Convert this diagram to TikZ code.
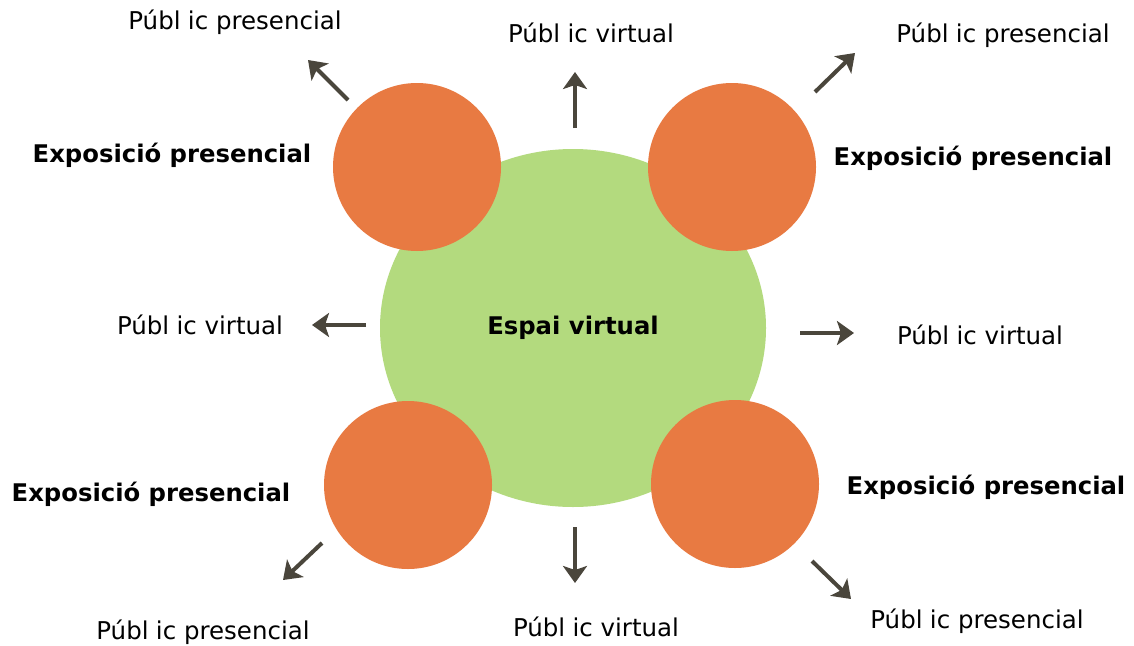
\documentclass[tikz,border=0pt]{standalone}
\usepackage{fontspec}
\setmainfont{DejaVu Sans}
\usetikzlibrary{arrows.meta,shapes.geometric}
\definecolor{orangec}{HTML}{E87A42}
\definecolor{greenc}{HTML}{B3DA7E}
\definecolor{arrowc}{HTML}{4A463C}
\newcommand{\pub}{Públ\hspace{0.3em}ic}
\tikzset{
  bub/.style={circle, fill=orangec, draw=none, minimum size=168pt, inner sep=0pt},
  lbl/.style={font=\fontsize{24.5}{28}\selectfont, text=black, inner sep=0pt},
  blbl/.style={font=\fontsize{24.3}{28}\selectfont\bfseries, text=black, inner sep=0pt},
  arr/.style={draw=arrowc, line width=4pt, -{Stealth[length=17pt,width=24pt,inset=4pt]}}
}
\begin{document}
\begin{tikzpicture}[x=1pt,y=-1pt]
\useasboundingbox[fill=white] (0,0) rectangle (1134,645);
% central space
\node[ellipse, fill=greenc, minimum width=386pt, minimum height=358pt, inner sep=0pt] (esp) at (573,328) {};
\path (esp) node[blbl] (espt) {Espai virtual};
% orange circles
\node[bub] (tl) at (417,167) {};
\node[bub] (tr) at (732,167) {};
\node[bub] (bl) at (408,485) {};
\node[bub] (br) at (735,484) {};
% bold labels
\node[blbl] (etl) at (172,155) {Exposició presencial};
\node[blbl] (etr) at (973,158) {Exposició presencial};
\node[blbl] (ebl) at (151,494) {Exposició presencial};
\node[blbl] (ebr) at (986,487) {Exposició presencial};
% public labels
\node[lbl] (p1) at (235,22) {\pub{} presencial};
\node[lbl] (p2) at (591,33) {\pub{} virtual};
\node[lbl] (p3) at (1003,35) {\pub{} presencial};
\node[lbl] (p4) at (200,325) {\pub{} virtual};
\node[lbl] (p5) at (980,335) {\pub{} virtual};
\node[lbl] (p6) at (203,632) {\pub{} presencial};
\node[lbl] (p7) at (596,627) {\pub{} virtual};
\node[lbl] (p8) at (977,621) {\pub{} presencial};
% arrow endpoints
\coordinate (a1s) at (348,100); \coordinate (a1e) at (308,60);
\coordinate (a2s) at (575,128); \coordinate (a2e) at (575,72);
\coordinate (a3s) at (815,92);  \coordinate (a3e) at (855,53);
\coordinate (a4s) at (366,325); \coordinate (a4e) at (312,325);
\coordinate (a5s) at (800,333); \coordinate (a5e) at (854,333);
\coordinate (a6s) at (322,543); \coordinate (a6e) at (283,580);
\coordinate (a7s) at (575,527); \coordinate (a7e) at (575,583);
\coordinate (a8s) at (812,561); \coordinate (a8e) at (851,599);
\foreach \i in {1,...,8} { \draw[arr] (a\i s) -- (a\i e); }
\end{tikzpicture}
\end{document}
